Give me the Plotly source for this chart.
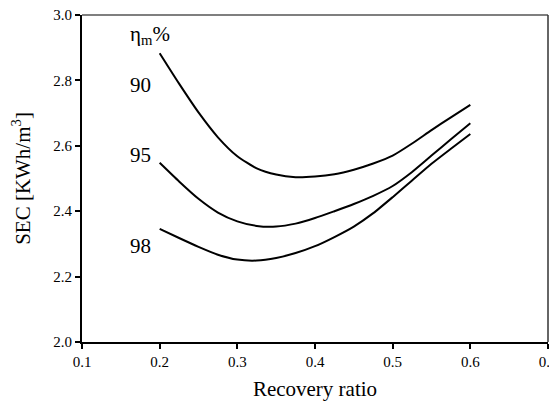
import plotly.graph_objects as go

recovery = [0.2, 0.225, 0.25, 0.275, 0.3, 0.325, 0.35, 0.375, 0.4, 0.425, 0.45, 0.475, 0.5, 0.525, 0.55, 0.575, 0.6]
sec_90 = [2.883, 2.790, 2.702, 2.626, 2.568, 2.531, 2.512, 2.504, 2.506, 2.513, 2.527, 2.546, 2.570, 2.607, 2.648, 2.687, 2.725]
sec_95 = [2.548, 2.491, 2.438, 2.396, 2.369, 2.355, 2.353, 2.362, 2.379, 2.400, 2.422, 2.447, 2.477, 2.520, 2.570, 2.620, 2.669]
sec_98 = [2.346, 2.318, 2.291, 2.267, 2.252, 2.249, 2.257, 2.272, 2.293, 2.321, 2.353, 2.394, 2.443, 2.494, 2.545, 2.591, 2.636]

labels = ["90", "95", "98"]
label_y = [2.786, 2.572, 2.295]

font = "Liberation Serif"

fig = go.Figure()
for y in (sec_90, sec_95, sec_98):
    fig.add_trace(go.Scatter(x=recovery, y=y, mode="lines",
                             line=dict(color="black", width=2, shape="spline", smoothing=0.6),
                             showlegend=False, hoverinfo="skip"))

for t, yv in zip(labels, label_y):
    fig.add_annotation(x=0.159, y=yv, text=t, showarrow=False, xanchor="left", yanchor="middle",
                       font=dict(family=font, size=21, color="black"))
fig.add_annotation(x=0.159, y=2.94, text="η<sub>m</sub>%", showarrow=False, xanchor="left",
                   yanchor="middle", font=dict(family=font, size=21, color="black"))

fig.add_shape(type="line", xref="paper", yref="paper", x0=0, x1=1, y0=1, y1=1,
              line=dict(color="#555", width=1.5), layer="above")
fig.add_shape(type="line", xref="paper", yref="paper", x0=1, x1=1, y0=0, y1=1,
              line=dict(color="#333", width=1.5), layer="above")

fig.update_layout(
    width=549, height=393,
    margin=dict(l=74, r=9, t=7, b=59),
    paper_bgcolor="white", plot_bgcolor="white",
    font=dict(family=font, size=15, color="black"),
    xaxis=dict(range=[0.1, 0.7], tickvals=[0.1, 0.2, 0.3, 0.4, 0.5, 0.6, 0.7],
               ticktext=["0.1", "0.2", "0.3", "0.4", "0.5", "0.6", "0.7"], automargin=False,
               ticklabeloverflow="allow",
               showgrid=False, zeroline=False, showline=True, linecolor="black", linewidth=2,
               ticks="outside", ticklen=5, tickwidth=1.5, tickcolor="black",
               tickfont=dict(family=font, size=15),
               title=dict(text="Recovery ratio", font=dict(family=font, size=21), standoff=21)),
    yaxis=dict(range=[2.0, 3.0], tickvals=[2.0, 2.2, 2.4, 2.6, 2.8, 3.0],
               ticktext=["2.0", "2.2", "2.4", "2.6", "2.8", "3.0"], automargin=False,
               ticklabeloverflow="allow",
               showgrid=False, zeroline=False, showline=True, linecolor="black", linewidth=2,
               ticks="outside", ticklen=5, tickwidth=1.5, tickcolor="black",
               tickfont=dict(family=font, size=15),
               title=dict(text="SEC [KWh/m<sup>3</sup>]", font=dict(family=font, size=21), standoff=18)),
)

fig.write_html("out.html")
